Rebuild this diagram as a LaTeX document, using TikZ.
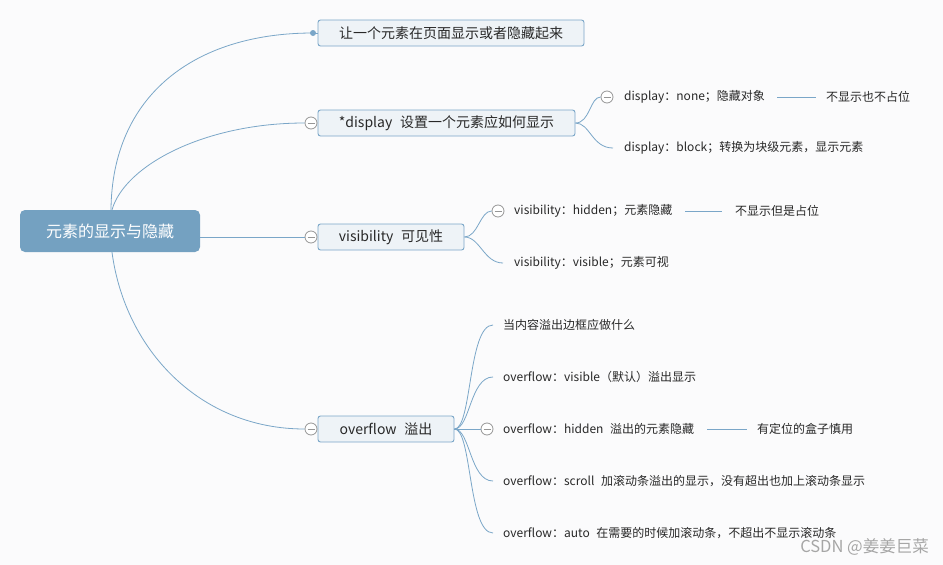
\documentclass[tikz,border=0pt]{standalone}
\usepackage{fontspec}
\setmainfont{Noto Sans CJK SC}
\definecolor{bg}{RGB}{251,251,252}
\definecolor{lineblue}{RGB}{122,166,200}
\definecolor{rootfill}{RGB}{116,161,193}
\definecolor{boxfill}{RGB}{238,243,247}
\definecolor{txt}{RGB}{40,40,40}
\definecolor{cgray}{RGB}{150,150,150}
\newcommand{\gap}{\hspace{0.55em}}
\begin{document}
\begin{tikzpicture}[x=1pt,y=-1pt,
  conn/.style={draw=lineblue, line width=0.8pt},
  rootbox/.style={rectangle, rounded corners=5pt, fill=rootfill, text=white, font=\fontsize{16}{18}\selectfont, minimum height=42pt, inner sep=0pt},
  lonebox/.style={rectangle, rounded corners=2.5pt, draw=lineblue, fill=boxfill, line width=0.9pt, text=txt, font=\fontsize{14}{16}\selectfont, minimum height=26pt, inner sep=0pt},
  leaf/.style={anchor=west, text=txt, font=\fontsize{12}{14}\selectfont, inner sep=4pt},
  collapse/.style={circle, draw=cgray, fill=white, line width=0.8pt, minimum size=12pt, inner sep=0pt,
     path picture={\draw[cgray, line width=0.8pt] ([xshift=-3.5pt]path picture bounding box.center) -- ([xshift=3.5pt]path picture bounding box.center);}},
  dotnode/.style={circle, fill=lineblue, minimum size=6pt, inner sep=0pt}
]
\fill[bg] (0,0) rectangle (943,565);
\useasboundingbox (0,0) rectangle (943,565);

% root
\node[rootbox, minimum width=180pt] (root) at (110,231) {元素的显示与隐藏};

% level 1
\node[lonebox, minimum width=266pt] (b1) at (451,33) {让一个元素在页面显示或者隐藏起来};
\node[lonebox, minimum width=257pt] (b2) at (446.5,123) {*display\gap 设置一个元素应如何显示};
\node[lonebox, minimum width=146pt] (b3) at (391,237) {visibility\gap 可见性};
\node[lonebox, minimum width=136pt] (b4) at (386,429) {overflow\gap 溢出};

\node[dotnode] (d1) at (313,33) {};
\node[collapse] (c2) at (311,123) {};
\node[collapse] (c3) at (311,237) {};
\node[collapse] (c4) at (311,429) {};

\draw[conn] (b1.west) -- (d1.center);
\draw[conn] ([xshift=1pt]root.north) .. controls (112,95) and (195,33) .. (d1.center);
\draw[conn] ([xshift=2pt]root.north) .. controls (125,165) and (205,123) .. (c2.west);
\draw[conn] (root.east |- c3) -- (c3.west);
\draw[conn] ([xshift=2pt]root.south) .. controls (125,350) and (200,429) .. (c4.west);

% display children
\node[collapse] (c21) at (607,97) {};
\node[leaf] (t21) at (620,97) {display：none；隐藏对象};
\node[leaf] (n21) at (822,97) {不显示也不占位};
\coordinate (e22) at (613,148);
\node[leaf] (t22) at (620,148) {display：block；转换为块级元素，显示元素};
\draw[conn] (b2.east) .. controls (590,123) and (590,97) .. (c21.west);
\draw[conn] (b2.east) .. controls (590,123) and (592,148) .. (e22);
\draw[conn] (777,97) -- ([xshift=-6pt]n21.west);

% visibility children
\node[collapse] (c31) at (498,211) {};
\node[leaf] (t31) at (510,211) {visibility：hidden；元素隐藏};
\node[leaf] (n31) at (731,211) {不显示但是占位};
\coordinate (e32) at (503,263);
\node[leaf] (t32) at (510,263) {visibility：visible；元素可视};
\draw[conn] (b3.east) .. controls (478,237) and (480,211) .. (c31.west);
\draw[conn] (b3.east) .. controls (480,237) and (484,263) .. (e32);
\draw[conn] (685,211) -- ([xshift=-9pt]n31.west);

% overflow children
\coordinate (e41) at (493,325);
\coordinate (e42) at (493,377);
\node[collapse] (c43) at (487,429) {};
\coordinate (e44) at (493,481);
\coordinate (e45) at (493,533);
\node[leaf] (t41) at (499,325) {当内容溢出边框应做什么};
\node[leaf] (t42) at (499,377) {overflow：visible（默认）溢出显示};
\node[leaf] (t43) at (499,429) {overflow：hidden\gap 溢出的元素隐藏};
\node[leaf] (n43) at (753,429) {有定位的盒子慎用};
\node[leaf] (t44) at (499,481) {overflow：scroll\gap 加滚动条溢出的显示，没有超出也加上滚动条显示};
\node[leaf] (t45) at (499,533) {overflow：auto\gap 在需要的时候加滚动条，不超出不显示滚动条};
\draw[conn] (b4.east) .. controls (472,429) and (468,325) .. (e41);
\draw[conn] (b4.east) .. controls (470,429) and (470,377) .. (e42);
\draw[conn] (b4.east) -- (c43.west);
\draw[conn] (b4.east) .. controls (470,429) and (470,481) .. (e44);
\draw[conn] (b4.east) .. controls (472,429) and (468,533) .. (e45);
\draw[conn] (707,429) -- ([xshift=-6pt]n43.west);

% watermark
\node[anchor=east, text=cgray!85, font=\fontsize{16.5}{18}\selectfont, inner sep=0pt] (wm) at (929,547) {CSDN @姜姜巨菜};
\end{tikzpicture}
\end{document}
